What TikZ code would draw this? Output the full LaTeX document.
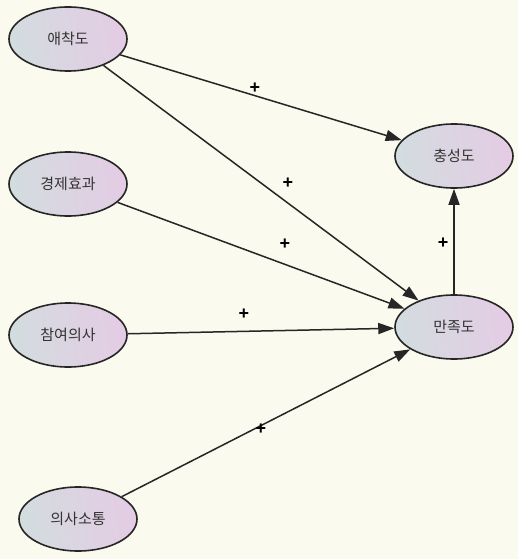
\documentclass[tikz,border=0pt]{standalone}
\usepackage{fontspec}
\newfontfamily\kr{Noto Sans CJK KR}
\newfontfamily\plusfont{Liberation Sans}
\usetikzlibrary{shapes.geometric,arrows.meta}
\definecolor{bg}{HTML}{FAFBEE}
\definecolor{lc}{HTML}{D3DCDF}
\definecolor{rc}{HTML}{E4CCE4}
\definecolor{tc}{HTML}{333333}
\tikzset{
  var/.style={ellipse, draw=black!85, line width=1.6pt, minimum width=118pt, minimum height=64pt,
    left color=lc, right color=rc, shading angle=100, font=\kr\fontsize{15}{16}\selectfont, text=tc, inner sep=0pt},
  link/.style={draw=black!85, line width=1.5pt, -{Triangle[length=16pt,width=11pt]}},
  sign/.style={font=\plusfont\bfseries\fontsize{18}{18}\selectfont, text=black}
}
\begin{document}
\begin{tikzpicture}[x=1pt,y=-1pt]
\fill[bg] (0,0) rectangle (518,559);
\useasboundingbox (0,0) rectangle (518,559);
\node[var] (a) at (68,39) {애착도};
\node[var] (b) at (68,184) {경제효과};
\node[var] (c) at (68,335) {참여의사};
\node[var] (d) at (78,519) {의사소통};
\node[var] (s) at (454,327) {만족도};
\node[var] (l) at (454,156) {충성도};
\draw[link] (a) -- (l);
\draw[link] (a) -- (s);
\draw[link] (b) -- (s);
\draw[link] (c) -- (s);
\draw[link] (d) -- (s);
\draw[link] (s) -- (l);
\node[sign] (p1) at (255,88) {+};
\node[sign] (p2) at (288,183) {+};
\node[sign] (p3) at (285,244) {+};
\node[sign] (p4) at (244,314) {+};
\node[sign] (p5) at (261,429) {+};
\node[sign] (p6) at (443,243) {+};
\end{tikzpicture}
\end{document}
